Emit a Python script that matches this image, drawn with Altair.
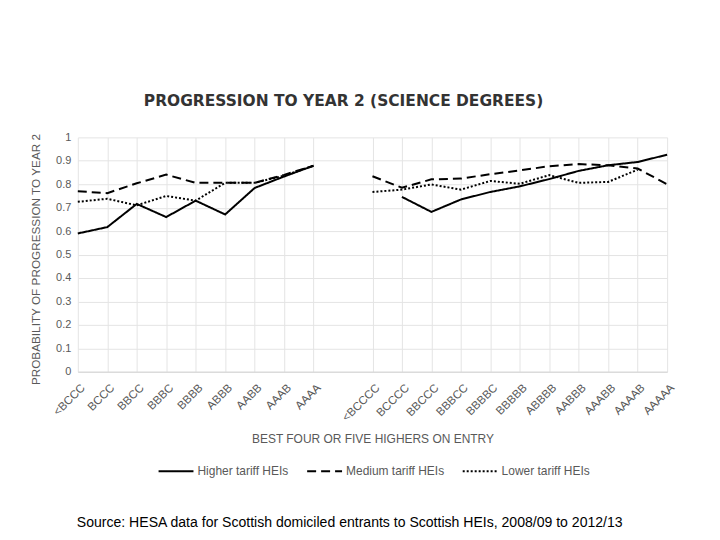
import json
import altair as alt
import pandas as pd

# ---- data ----
labels_left = ["<BCCC", "BCCC", "BBCC", "BBBC", "BBBB", "ABBB", "AABB", "AAAB", "AAAA"]
labels_right = ["<BCCCC", "BCCCC", "BBCCC", "BBBCC", "BBBBC", "BBBBB",
                "ABBBB", "AABBB", "AAABB", "AAAAB", "AAAAA"]

series_names = ["Higher tariff HEIs", "Medium tariff HEIs", "Lower tariff HEIs"]

higher_left = [0.59, 0.617, 0.716, 0.66, 0.73, 0.671, 0.784, 0.833, 0.879]
medium_left = [0.77, 0.762, 0.804, 0.841, 0.806, 0.806, 0.806, 0.84, 0.879]
lower_left = [0.725, 0.738, 0.71, 0.75, 0.73, 0.806, 0.806, 0.837, 0.879]

higher_right = [None, 0.746, 0.682, 0.735, 0.767, 0.791, 0.822, 0.857, 0.881, 0.895, 0.926]
medium_right = [0.834, 0.785, 0.821, 0.824, 0.843, 0.859, 0.877, 0.886, 0.881, 0.867, 0.80]
lower_right = [0.767, 0.777, 0.799, 0.777, 0.814, 0.802, 0.839, 0.806, 0.81, 0.862, None]

source_text = "Source: HESA data for Scottish domiciled entrants to Scottish HEIs, 2008/09 to 2012/13"

# ---- build table ----
all_labels = labels_left + [""] + labels_right
offset_right = len(labels_left) + 1
rows = []
for name, left, right in zip(series_names,
                             [higher_left, medium_left, lower_left],
                             [higher_right, medium_right, lower_right]):
    for i, v in enumerate(left):
        if v is not None:
            rows.append({"series": name, "x": i, "value": v, "part": "four"})
    for i, v in enumerate(right):
        if v is not None:
            rows.append({"series": name, "x": offset_right + i, "value": v, "part": "five"})
df = pd.DataFrame(rows)

x_ticks = list(range(len(labels_left))) + list(range(offset_right, len(all_labels)))
y_ticks = [round(i / 10, 1) for i in range(11)]
label_expr = json.dumps(all_labels) + "[datum.value]"

FONT = "Liberation Sans"
GREY = "#595959"

lines = alt.Chart(df).mark_line(color="#000000", strokeWidth=2).encode(
    x=alt.X("x:Q",
            scale=alt.Scale(domain=[0, len(all_labels) - 1], nice=False, zero=False),
            axis=alt.Axis(values=x_ticks, labelExpr=label_expr, labelAngle=-45,
                          labelAlign="right", labelBaseline="top",
                          labelFontSize=11.5, labelColor=GREY, labelFont=FONT,
                          labelPadding=10, labelOffset=1, labelOverlap=False,
                          grid=True, gridColor="#e4e4e4", ticks=False,
                          domainColor="#d4d4d4",
                          title="BEST FOUR OR FIVE HIGHERS ON ENTRY",
                          titleFont=FONT, titleFontSize=12, titleFontWeight="normal",
                          titleColor=GREY, titleY=67, titleBaseline="middle")),
    y=alt.Y("value:Q",
            scale=alt.Scale(domain=[0, 1], nice=False),
            axis=alt.Axis(values=y_ticks, format="~g", labelFontSize=11,
                          labelColor=GREY, labelFont=FONT, labelPadding=7,
                          domain=False, ticks=False, gridColor="#e4e4e4",
                          title="PROBABILITY OF PROGRESSION TO YEAR 2",
                          titleFont=FONT, titleFontSize=11.8, titleFontWeight="normal",
                          titleColor=GREY, titlePadding=14, titleY=122)),
    strokeDash=alt.StrokeDash("series:N",
                              scale=alt.Scale(domain=series_names,
                                              range=[[1, 0], [9, 5], [2, 2]]),
                              legend=alt.Legend(title=None, orient="none",
                                                direction="horizontal",
                                                legendX=80, legendY=316,
                                                symbolType="stroke", symbolSize=1225,
                                                symbolStrokeWidth=2,
                                                symbolStrokeColor="#000000",
                                                labelFont=FONT, labelFontSize=12,
                                                labelColor=GREY, labelOffset=3,
                                                columnPadding=14)),
    detail="part:N",
)

source = alt.Chart(pd.DataFrame({"t": [source_text]})).mark_text(
    align="left", baseline="alphabetic", font=FONT, fontSize=14.1, color="#000000"
).encode(text="t:N", x=alt.value(-1), y=alt.value(391))

chart = alt.layer(lines, source).properties(
    width=591, height=235,
    autosize=alt.AutoSizeParams(type="none"),
    padding={"left": 70, "top": 129, "right": 45, "bottom": 160},
    title=alt.Title("PROGRESSION TO YEAR 2 (SCIENCE DEGREES)", font="DejaVu Sans",
                    fontSize=15.5, fontWeight="bold", color="#333333",
                    anchor="middle", offset=22, dx=-29),
).configure_view(stroke=None)

chart.save("out.html", embed_options={"renderer": "svg", "actions": False})
